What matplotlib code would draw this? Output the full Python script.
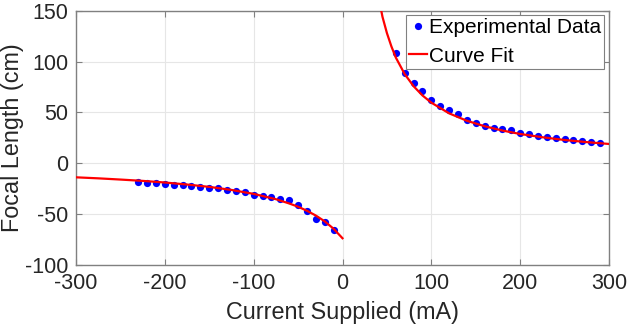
import numpy as np
import matplotlib
matplotlib.use("Agg")
import matplotlib.pyplot as plt

plt.rcParams["font.family"] = ["Liberation Sans", "DejaVu Sans"]
plt.rcParams["axes.unicode_minus"] = False

# experimental data, negative current branch
neg_current = [-230, -220, -210, -200, -190, -180, -170, -160, -150, -140, -130, -120,
               -110, -100, -90, -80, -70, -60, -50, -40, -30, -20, -10]
neg_focal = [-18.7, -19.3, -19.7, -20.0, -21.3, -21.6, -22.3, -23.3, -23.9, -24.6, -26.2,
             -27.2, -28.5, -30.8, -31.8, -33.4, -35.1, -36.4, -41.3, -47.2, -54.4, -58.0, -65.5]

# experimental data, positive current branch
pos_current = [60, 70, 80, 90, 100, 110, 120, 130, 140, 150, 160, 170,
               180, 190, 200, 210, 220, 230, 240, 250, 260, 270, 280, 290]
pos_focal = [108.8, 89.1, 78.6, 70.8, 62.3, 56.4, 52.4, 48.5, 42.6, 39.3, 37.0, 35.1,
             33.7, 32.8, 29.5, 28.5, 26.9, 26.2, 25.2, 24.2, 22.9, 22.0, 20.6, 20.3]

# fitted curve
fit_neg_current = [-300, -275, -250, -225, -200, -175, -150, -125, -100, -75, -60,
                   -50, -40, -30, -20, -10, 0]
fit_neg_focal = [-13.8, -14.8, -16.0, -17.3, -18.9, -20.9, -23.2, -26.2, -30.1, -35.3,
                 -39.5, -42.7, -46.7, -51.4, -57.1, -64.4, -73.7]

fit_pos_current = [40, 45, 50, 55, 60, 70, 80, 90, 100, 120, 140, 160, 180, 200,
                   225, 250, 275, 300]
fit_pos_focal = [166, 144, 128, 115, 104, 87.7, 75.8, 66.7, 59.6, 49.1, 41.8, 36.4,
                 32.2, 28.8, 25.6, 22.9, 20.8, 19.0]

W, H = 628, 325
fig = plt.figure(figsize=(W / 100, H / 100), dpi=100)
ax = fig.add_axes([76 / W, 1 - 265 / H, 533 / W, 254.3 / H])

ax.plot(neg_current + pos_current, neg_focal + pos_focal, "o", color="#0000FF",
        ms=5.2, mec="none", label="Experimental Data", zorder=3)
ax.plot(fit_neg_current, fit_neg_focal, "-", color="#FF0000", lw=1.6,
        label="Curve Fit", zorder=4)
ax.plot(fit_pos_current, fit_pos_focal, "-", color="#FF0000", lw=1.6, zorder=4)

ax.set_xlim(-300, 300)
ax.set_ylim(-100, 150)
ax.set_xticks(np.arange(-300, 301, 100))
ax.set_yticks(np.arange(-100, 151, 50))
ax.grid(True, color="#E6E6E6", lw=0.8)
ax.set_axisbelow(True)
for s in ax.spines.values():
    s.set_color("#808080")
    s.set_linewidth(1.0)
ax.tick_params(direction="in", length=4, color="#808080", labelsize=15.5,
               labelcolor="#262626", top=True, right=True)
ax.tick_params(axis="x", pad=5.5)
ax.tick_params(axis="y", pad=5.5)

ax.set_xlabel("Current Supplied (mA)", fontsize=16.8, color="#262626", va="center")
ax.set_ylabel("Focal Length (cm)", fontsize=16.8, color="#262626", va="center")
ax.xaxis.set_label_coords(0.5, (265 - 312) / 254.3)
ax.yaxis.set_label_coords((13 - 76) / 533, 0.5)

leg = ax.legend(loc="upper right", bbox_to_anchor=((604 - 76) / 533, (265 - 15) / 254.3),
                borderaxespad=0, fontsize=15, handlelength=0.85, handletextpad=0.1,
                borderpad=0.15, labelspacing=0.45, fancybox=False,
                framealpha=1, edgecolor="#808080")
leg.get_frame().set_linewidth(0.8)

fig.savefig("out.png", dpi=100)
